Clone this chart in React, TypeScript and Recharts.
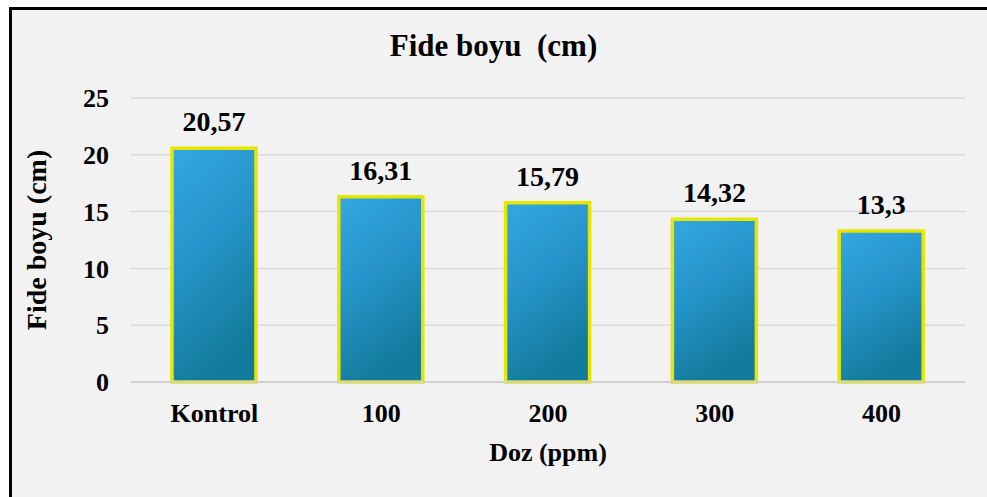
import { BarChart, Bar, XAxis, YAxis, CartesianGrid, LabelList } from "recharts";

const categories = ["Kontrol", "100", "200", "300", "400"];
const fideBoyu = [20.57, 16.31, 15.79, 14.32, 13.3];
const yTicks = [0, 5, 10, 15, 20, 25];

const data = categories.map((c, i) => ({ name: c, value: fideBoyu[i] }));

const FONT = "'Liberation Serif', 'Times New Roman', serif";

const YTitle = (props: any) => {
  const vb = props.viewBox;
  const cy = vb.y + vb.height / 2;
  return (
    <text
      x={36}
      y={cy}
      transform={`rotate(-90 36 ${cy})`}
      textAnchor="middle"
      dominantBaseline="central"
      style={{ fontFamily: FONT, fontWeight: 700, fontSize: 28, fill: "#000" }}
    >
      Fide boyu (cm)
    </text>
  );
};

const XTitle = (props: any) => {
  const vb = props.viewBox;
  return (
    <text
      x={vb.x + vb.width / 2}
      y={461}
      textAnchor="middle"
      style={{ fontFamily: FONT, fontWeight: 700, fontSize: 26, fill: "#000" }}
    >
      Doz (ppm)
    </text>
  );
};

export default function App() {
  return (
    <div style={{ position: "absolute", left: 0, top: 0, width: 987, height: 497, background: "#fff", overflow: "hidden" }}>
      {/* frame, only left and top edges show */}
      <div
        style={{
          position: "absolute",
          left: 9,
          top: 7,
          width: 975,
          height: 487,
          background: "#f2f2f2",
          borderLeft: "3px solid #000",
          borderTop: "3px solid #000",
        }}
      />
      <div
        style={{
          position: "absolute",
          left: 0,
          width: 987,
          top: 29,
          textAlign: "center",
          fontFamily: FONT,
          fontWeight: 700,
          fontSize: 31,
          lineHeight: "34px",
          color: "#000",
          whiteSpace: "pre",
        }}
      >
        {"Fide boyu  (cm)"}
      </div>
      <div style={{ position: "absolute", left: 0, top: 0 }}>
        <BarChart width={987} height={497} data={data} margin={{ top: 98, right: 22, bottom: 0, left: 0 }}>
          <defs>
            <linearGradient id="barFill" x1="0" y1="0" x2="0.35" y2="1">
              <stop offset="0%" stopColor="#32a7e1" />
              <stop offset="45%" stopColor="#2796cc" />
              <stop offset="100%" stopColor="#137b9c" />
            </linearGradient>
          </defs>
          <CartesianGrid vertical={false} stroke="#d9d9d9" strokeWidth={1.5} />
          <XAxis
            dataKey="name"
            height={115}
            stroke="#d0d0d0"
            strokeWidth={2}
            tickLine={false}
            tickSize={0}
            tickMargin={22}
            tick={{ fill: "#000", fontFamily: FONT, fontWeight: 700, fontSize: 26 }}
            label={{ content: XTitle }}
          />
          <YAxis
            width={131}
            domain={[0, 25]}
            ticks={yTicks}
            axisLine={false}
            tickLine={false}
            tickSize={0}
            tickMargin={22}
            tick={{ fill: "#000", fontFamily: FONT, fontWeight: 700, fontSize: 26 }}
            label={{ content: YTitle }}
          />
          <Bar
            dataKey="value"
            barSize={84}
            fill="url(#barFill)"
            stroke="#e6e600"
            strokeWidth={3.5}
            isAnimationActive={false}
          >
            <LabelList
              dataKey="value"
              position="top"
              offset={17}
              formatter={(v: any) => String(v).replace(".", ",")}
              style={{ fill: "#000", fontFamily: FONT, fontWeight: 700, fontSize: 28 }}
            />
          </Bar>
        </BarChart>
      </div>
    </div>
  );
}
